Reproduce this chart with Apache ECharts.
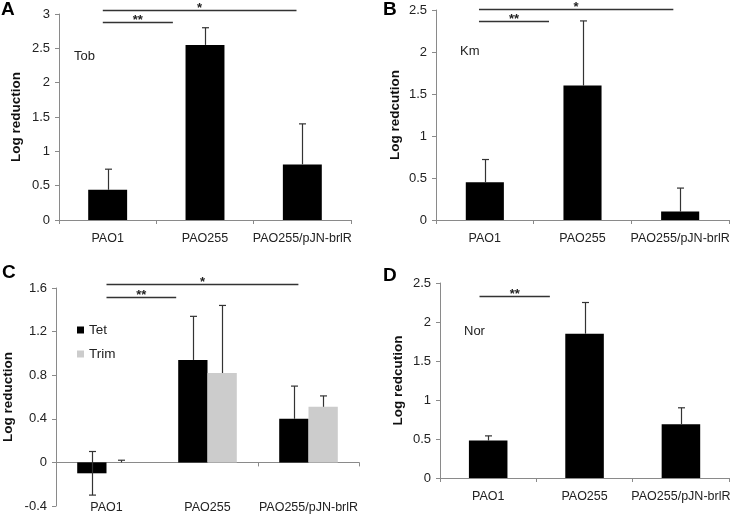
<!DOCTYPE html>
<html><head><meta charset="utf-8">
<script src="https://cdn.jsdelivr.net/npm/echarts@6/dist/echarts.min.js"></script>
<style>html,body{margin:0;padding:0;background:#fff}#c{width:733px;height:514px}</style>
</head><body><div id="c"></div>
<script>
// ---- data ----
const categories = ['PAO1', 'PAO255', 'PAO255/pJN-brlR'];
// Panel A (Tob)
const tobValues = [0.44, 2.55, 0.81];
const tobErrTop = [0.74, 2.80, 1.40];
// Panel B (Km)
const kmValues = [0.45, 1.60, 0.10];
const kmErrTop = [0.72, 2.37, 0.38];
// Panel C (Tet / Trim)
const tetValues = [-0.10, 0.94, 0.40];
const tetErrTop = [0.10, 1.34, 0.70];
const tetErrBottom = [-0.30, 0.94, 0.40];
const trimValues = [0.00, 0.82, 0.51];
const trimErrTop = [0.02, 1.44, 0.61];
// Panel D (Nor)
const norValues = [0.48, 1.85, 0.69];
const norErrTop = [0.54, 2.25, 0.90];
// axis ranges [min, max, interval]
const yRangeA = [0, 3, 0.5];
const yRangeB = [0, 2.5, 0.5];
const yRangeC = [-0.4, 1.6, 0.4];
const yRangeD = [0, 2.5, 0.5];
// significance brackets: [fromPos, toPos, yValue, label] (positions in category units)
const sigA = [[0.45, 1.17, 2.883, '**'], [0.45, 2.44, 3.058, '*']];
const sigB = [[0.44, 1.157, 2.369, '**'], [0.44, 2.43, 2.51, '*']];
const sigC = [[0.50, 1.19, 1.519, '**'], [0.50, 2.40, 1.636, '*']];
const sigD = [[0.41, 1.14, 2.333, '**']];

const FONT = 'Liberation Sans, Arial, sans-serif';
const AXIS_GRAY = '#8a8a8a';
const TXT = '#222';

const chart = echarts.init(document.getElementById('c'), null, {renderer: 'canvas'});

function yAxisDef(gridIndex, r, name, gap) {
  return {
    type: 'value', gridIndex, min: r[0], max: r[1], interval: r[2],
    name, nameLocation: 'middle', nameGap: gap,
    nameTextStyle: {fontFamily: FONT, fontWeight: 'bold', fontSize: 13.5, color: '#111'},
    axisLine: {show: true, lineStyle: {color: AXIS_GRAY, width: 1}},
    axisTick: {show: true, length: 4, lineStyle: {color: AXIS_GRAY}},
    axisLabel: {fontFamily: FONT, fontSize: 13, color: TXT, margin: 9},
    splitLine: {show: false}
  };
}
function xAxisDef(gridIndex, extra) {
  return Object.assign({
    type: 'category', gridIndex, data: categories,
    axisLine: {show: true, onZero: false, lineStyle: {color: AXIS_GRAY, width: 1}},
    axisTick: {show: true, length: 4, lineStyle: {color: AXIS_GRAY}},
    axisLabel: {fontFamily: FONT, fontSize: 12.5, color: TXT, margin: 12, interval: 0}
  }, extra || {});
}

function errRender(offsetFrac) {
  return function (params, api) {
    const c = api.coord([api.value(0), 0]);
    const band = api.size([1, 0])[0];
    const cx = Math.round(c[0] + offsetFrac * band) + 0.5;
    const yT = api.coord([api.value(0), api.value(1)])[1];
    const yB = api.coord([api.value(0), api.value(2)])[1];
    const half = 3.5;
    const st = {stroke: '#333', lineWidth: 1.2};
    const children = [
      {type: 'line', shape: {x1: cx, y1: yT, x2: cx, y2: yB}, style: st},
      {type: 'line', shape: {x1: cx - half, y1: yT, x2: cx + half, y2: yT}, style: st}
    ];
    if (api.value(2) < api.value(3)) {
      children.push({type: 'line', shape: {x1: cx - half, y1: yB, x2: cx + half, y2: yB}, style: st});
    }
    return {type: 'group', children};
  };
}
function errData(vals, tops, bottoms) {
  return vals.map((v, i) => [i, tops[i], bottoms ? bottoms[i] : v, v]);
}
function errSeries(xi, yi, vals, tops, bottoms, off) {
  return {
    type: 'custom', xAxisIndex: xi, yAxisIndex: yi, z: 3,
    renderItem: errRender(off || 0),
    data: errData(vals, tops, bottoms),
    encode: {x: 0, y: [1, 2]}, silent: true, clip: false
  };
}

const option = {
  animation: false,
  backgroundColor: '#fff',
  textStyle: {fontFamily: FONT},
  grid: [
    {left: 59, top: 14, width: 292, height: 206},
    {left: 436, top: 10, width: 293, height: 210},
    {left: 54, top: 288, width: 305, height: 221},
    {left: 440, top: 283, width: 292, height: 195}
  ],
  xAxis: [
    xAxisDef(0),
    xAxisDef(1),
    xAxisDef(2, {axisLine: {show: false, onZero: false}, axisTick: {show: false},
      axisLabel: {fontFamily: FONT, fontSize: 12.5, color: TXT, margin: -5, interval: 0}}),
    xAxisDef(2, {position: 'top', axisLine: {show: true, onZero: true, lineStyle: {color: AXIS_GRAY, width: 1}},
      axisTick: {show: true, inside: true, length: 4, lineStyle: {color: AXIS_GRAY}}, axisLabel: {show: false}}),
    xAxisDef(3)
  ],
  yAxis: [
    yAxisDef(0, yRangeA, 'Log reduction', 36),
    yAxisDef(1, yRangeB, 'Log redcution', 34),
    yAxisDef(2, yRangeC, 'Log reduction', 41),
    yAxisDef(3, yRangeD, 'Log redcution', 35)
  ],
  legend: {
    data: ['Tet', 'Trim'], orient: 'vertical', left: 77, top: 323, padding: 0,
    itemWidth: 7, itemHeight: 7, itemGap: 10, icon: 'rect',
    textStyle: {fontFamily: FONT, fontSize: 13.5, color: TXT}
  },
  series: [
    {type: 'bar', name: 'Tob', xAxisIndex: 0, yAxisIndex: 0, data: tobValues, barCategoryGap: '60%',
      itemStyle: {color: '#000'}},
    errSeries(0, 0, tobValues, tobErrTop),
    {type: 'bar', name: 'Km', xAxisIndex: 1, yAxisIndex: 1, data: kmValues, barCategoryGap: '61%',
      itemStyle: {color: '#000'}},
    errSeries(1, 1, kmValues, kmErrTop),
    {type: 'bar', name: 'Tet', xAxisIndex: 2, yAxisIndex: 2, data: tetValues, barCategoryGap: '42%', barGap: '0%',
      itemStyle: {color: '#000'}},
    {type: 'bar', name: 'Trim', xAxisIndex: 2, yAxisIndex: 2, data: trimValues, barCategoryGap: '42%', barGap: '0%',
      itemStyle: {color: '#cccccc'}},
    errSeries(2, 2, tetValues, tetErrTop, tetErrBottom, -0.145),
    errSeries(2, 2, trimValues, trimErrTop, null, 0.145),
    {type: 'bar', name: 'Nor', xAxisIndex: 4, yAxisIndex: 3, data: norValues, barCategoryGap: '60%',
      itemStyle: {color: '#000'}},
    errSeries(4, 3, norValues, norErrTop)
  ]
};
chart.setOption(option);

// annotations (panel letters, antibiotic labels, significance bars)
function sigGraphics(list, xi, yi) {
  const c0 = chart.convertToPixel({xAxisIndex: xi}, 0);
  const c1 = chart.convertToPixel({xAxisIndex: xi}, 1);
  const band = c1 - c0;
  const out = [];
  list.forEach(s => {
    const x1 = c0 + (s[0] - 0.5) * band;
    const x2 = c0 + (s[1] - 0.5) * band;
    const y = Math.round(chart.convertToPixel({yAxisIndex: yi}, s[2])) + 0.5;
    out.push({type: 'line', shape: {x1, y1: y, x2, y2: y}, style: {stroke: '#333', lineWidth: 1.3}});
    out.push({type: 'text', x: (x1 + x2) / 2, y: y + 4, style: {text: s[3], fill: '#222',
      font: 'bold 13px ' + FONT, textAlign: 'center', textVerticalAlign: 'bottom'}});
  });
  return out;
}
const letter = (t, x, y) => ({type: 'text', x, y, style: {text: t, fill: '#000', font: 'bold 19px ' + FONT}});
const label = (t, x, y) => ({type: 'text', x, y, style: {text: t, fill: TXT, font: '13px ' + FONT, textVerticalAlign: 'middle'}});

chart.setOption({
  graphic: [
    letter('A', 1, 0), letter('B', 383, 0), letter('C', 2, 263), letter('D', 383, 266),
    label('Tob', 74, 56), label('Km', 460, 51), label('Nor', 464, 331)
  ].concat(sigGraphics(sigA, 0, 0), sigGraphics(sigB, 1, 1), sigGraphics(sigC, 2, 2), sigGraphics(sigD, 4, 3))
});
</script>
</body></html>
